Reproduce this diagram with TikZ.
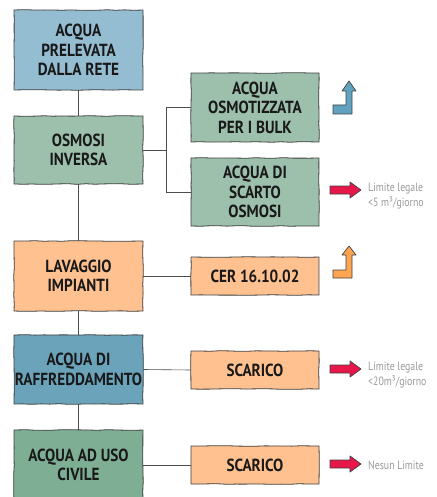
\documentclass[tikz,border=0pt]{standalone}
\usepackage{fontspec}
\setmainfont[FakeStretch=0.82]{PT Sans}
\newfontfamily\scatola[FakeStretch=0.87]{PT Sans}
\usetikzlibrary{calc,decorations.pathmorphing}

\definecolor{rete}{HTML}{95BDD1}
\definecolor{osmo}{HTML}{9CC0AB}
\definecolor{lava}{HTML}{FFC18F}
\definecolor{raff}{HTML}{6BA4BA}
\definecolor{civ}{HTML}{7EAE93}
\definecolor{frecciablu}{HTML}{5FA3C0}
\definecolor{frecciaor}{HTML}{FFA552}
\definecolor{frecciaro}{HTML}{E8174A}

\tikzset{
    box/.style={draw=black!75, line width=0.8pt, minimum width=129pt,
        align=center, inner sep=0pt, text=black!90,
        font=\scatola\bfseries\fontsize{17.5}{19.5}\selectfont,
        decorate, decoration={random steps, segment length=9pt, amplitude=0.35pt}},
    side/.style={box, minimum width=128pt},
    link/.style={draw=black!70, line width=0.6pt},
    freccia/.style={draw=black!75, line width=0.7pt, line join=round},
    nota/.style={text=black!40, align=left, inner sep=0pt,
        font=\fontsize{12}{15}\selectfont}
}

\begin{document}
\begin{tikzpicture}[x=1pt,y=-1pt]
    \useasboundingbox (0,0) rectangle (436,497);

    % colonna principale
    \node[box, fill=rete, minimum height=80pt] (rete) at (78.5,50)
        {ACQUA\\PRELEVATA\\DALLA RETE};
    \node[box, fill=osmo, minimum height=68pt] (osmosi) at (78.5,150)
        {OSMOSI\\INVERSA};
    \node[box, fill=lava, minimum height=70pt] (lavaggio) at (78.5,276)
        {LAVAGGIO\\IMPIANTI};
    \node[box, fill=raff, minimum height=69pt] (raffredd) at (78.5,369.5)
        {ACQUA DI\\RAFFREDDAMENTO};
    \node[box, fill=civ, minimum height=70pt] (civile) at (78.5,465)
        {ACQUA AD USO\\CIVILE};

    % colonna destra
    \node[side, fill=osmo, minimum height=69pt] (osmotiz) at (255,107.5)
        {ACQUA\\OSMOTIZZATA\\PER I BULK};
    \node[side, fill=osmo, minimum height=68pt] (scarto) at (255,192)
        {ACQUA DI\\SCARTO\\OSMOSI};
    \node[side, fill=lava, minimum height=38pt] (cer) at (255,276)
        {CER 16.10.02};
    \node[side, fill=lava, minimum height=38pt] (scarico1) at (255,370)
        {SCARICO};
    \node[side, fill=lava, minimum height=38pt] (scarico2) at (255,465)
        {SCARICO};

    \draw[link] (rete) -- (osmosi);
    \draw[link] (osmosi) -- (lavaggio);
    \draw[link] (lavaggio) -- (raffredd);
    \draw[link] (raffredd) -- (civile);

    \coordinate (split) at ($(osmosi.east)+(23,0)$);
    \draw[link] (osmosi.east) -- (split);
    \draw[link] (osmotiz.west) -| (split) |- (scarto.west);
    \draw[link] (lavaggio.east) -- (cer.west);
    \draw[link] (raffredd.east) -- (scarico1.west);
    \draw[link] (civile.east) -- (scarico2.west);

    % frecce
    \draw[freccia, fill=frecciablu, shift={(333,114)}]
        (0,-9) -- (13,-9) -- (13,-23) -- (9,-23) -- (16,-33) -- (23,-23)
        -- (19,-23) -- (19,0) -- (0,0) -- cycle;
    \draw[freccia, fill=frecciaor, shift={(333,278)}]
        (0,-8) -- (13,-8) -- (13,-23) -- (9,-23) -- (16,-32) -- (23,-23)
        -- (19,-23) -- (19,0) -- (0,0) -- cycle;
    \foreach \y in {190,369,464}
        \draw[freccia, fill=frecciaro, shift={(330,\y)}]
            (0,-4) -- (20,-4) -- (20,-8) -- (31,0) -- (20,8) -- (20,4)
            -- (0,4) -- cycle;

    \node[nota, anchor=north west] (limite1) at (368,183)
        {Limite legale\\<5 m³/giorno};
    \node[nota, anchor=north west] (limite2) at (368,362)
        {Limite legale\\<20m³/giorno};
    \node[nota, anchor=west] (limite3) at (368,465) {Nesun Limite};
\end{tikzpicture}
\end{document}
